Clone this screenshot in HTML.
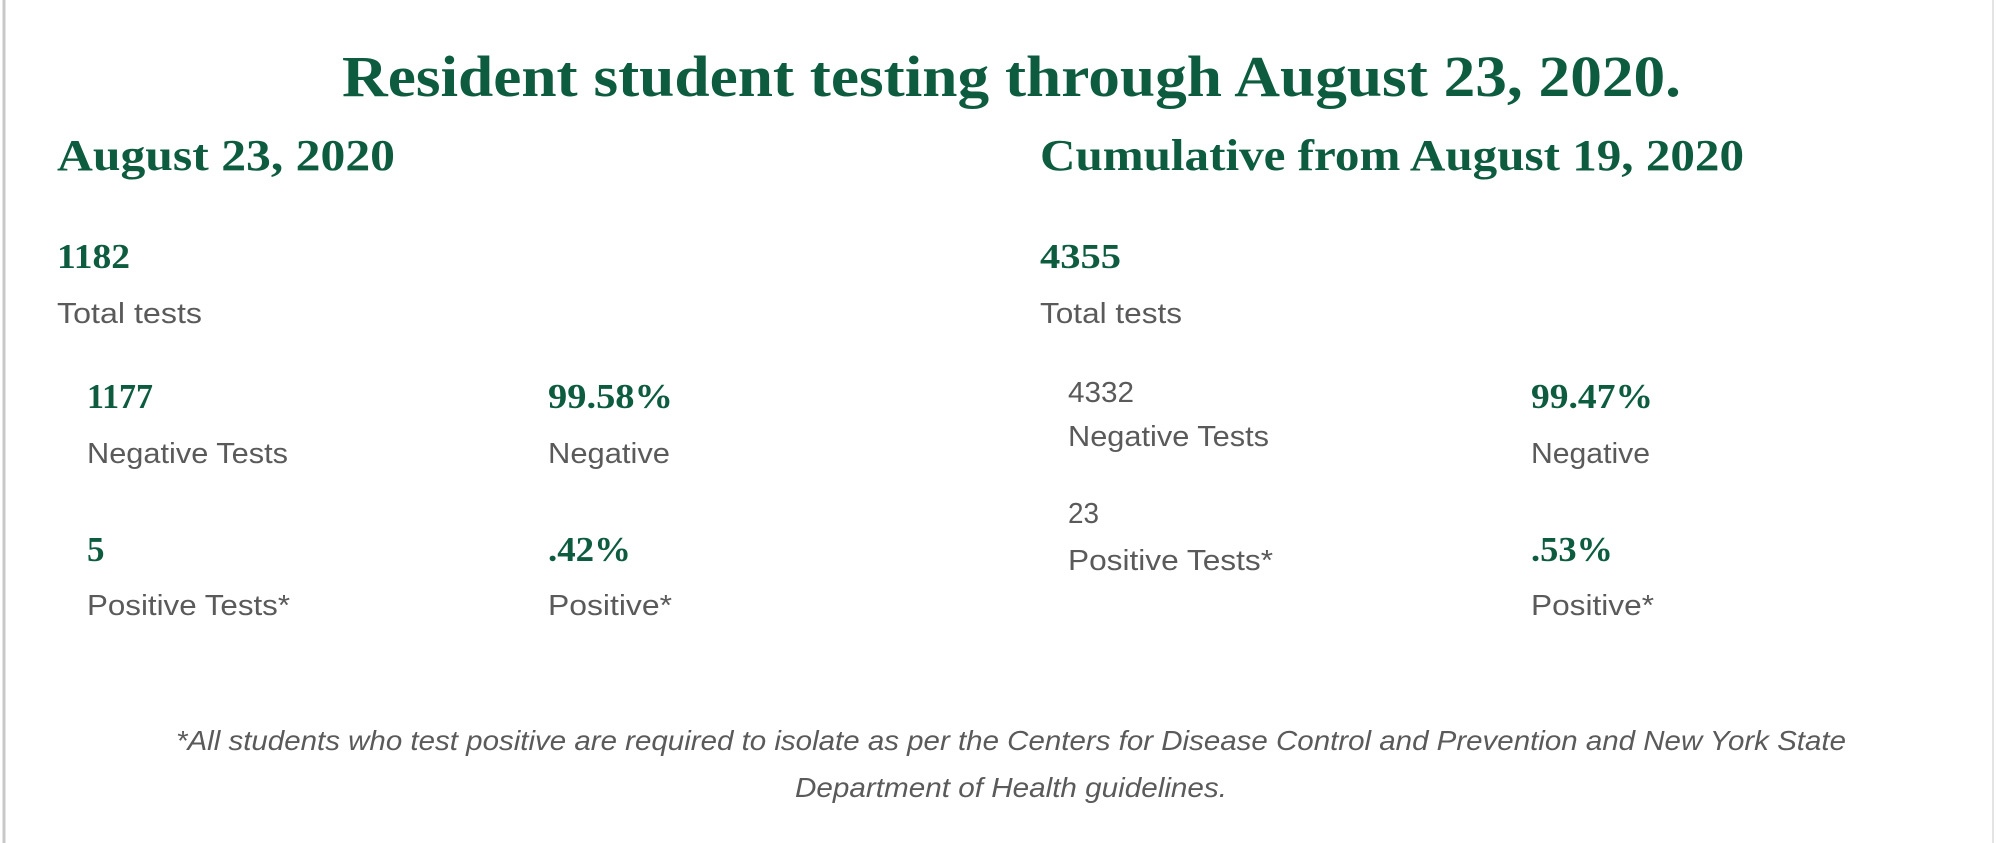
<!DOCTYPE html>
<html><head><meta charset="utf-8"><style>
html,body{margin:0;padding:0;background:#fff;}
svg{display:block}
.s{font-family:"Liberation Serif",serif;font-weight:bold;fill:#0d5c3f}
.g{font-family:"Liberation Sans",sans-serif;fill:#5a5a5a}
</style></head><body>
<svg width="2000" height="843" viewBox="0 0 2000 843" xmlns="http://www.w3.org/2000/svg">
<rect width="2000" height="843" fill="#fff"/>
<line x1="4" y1="0" x2="4" y2="843" stroke="#c8c8c8" stroke-width="3"/>
<line x1="1993" y1="0" x2="1993" y2="843" stroke="#e4e4e4" stroke-width="2"/>
<text class="s" x="342" y="96" font-size="58" textLength="1339" lengthAdjust="spacingAndGlyphs">Resident student testing through August 23, 2020.</text>
<text class="s" x="57" y="170" font-size="44" textLength="338" lengthAdjust="spacingAndGlyphs">August 23, 2020</text>
<text class="s" x="1040" y="170" font-size="44" textLength="704" lengthAdjust="spacingAndGlyphs">Cumulative from August 19, 2020</text>

<text class="s" x="57" y="268" font-size="35" textLength="73" lengthAdjust="spacingAndGlyphs">1182</text>
<text class="g" x="57" y="323" font-size="29" textLength="145" lengthAdjust="spacingAndGlyphs">Total tests</text>
<text class="s" x="87" y="408" font-size="35" textLength="66" lengthAdjust="spacingAndGlyphs">1177</text>
<text class="s" x="548" y="408" font-size="35" textLength="125" lengthAdjust="spacingAndGlyphs">99.58%</text>
<text class="g" x="87" y="463" font-size="29" textLength="201" lengthAdjust="spacingAndGlyphs">Negative Tests</text>
<text class="g" x="548" y="463" font-size="29" textLength="122" lengthAdjust="spacingAndGlyphs">Negative</text>
<text class="s" x="87" y="561" font-size="35">5</text>
<text class="s" x="548" y="561" font-size="35" textLength="83" lengthAdjust="spacingAndGlyphs">.42%</text>
<text class="g" x="87" y="615" font-size="29" textLength="203" lengthAdjust="spacingAndGlyphs">Positive Tests*</text>
<text class="g" x="548" y="615" font-size="29" textLength="124" lengthAdjust="spacingAndGlyphs">Positive*</text>

<text class="s" x="1040" y="268" font-size="35" textLength="81" lengthAdjust="spacingAndGlyphs">4355</text>
<text class="g" x="1040" y="323" font-size="29" textLength="142" lengthAdjust="spacingAndGlyphs">Total tests</text>
<text class="g" x="1068" y="402" font-size="29" textLength="66" lengthAdjust="spacingAndGlyphs">4332</text>
<text class="g" x="1068" y="446" font-size="29" textLength="201" lengthAdjust="spacingAndGlyphs">Negative Tests</text>
<text class="s" x="1531" y="408" font-size="35" textLength="122" lengthAdjust="spacingAndGlyphs">99.47%</text>
<text class="g" x="1531" y="463" font-size="29" textLength="119" lengthAdjust="spacingAndGlyphs">Negative</text>
<text class="g" x="1068" y="523" font-size="29" textLength="31" lengthAdjust="spacingAndGlyphs">23</text>
<text class="g" x="1068" y="570" font-size="29" textLength="205" lengthAdjust="spacingAndGlyphs">Positive Tests*</text>
<text class="s" x="1531" y="561" font-size="35" textLength="82" lengthAdjust="spacingAndGlyphs">.53%</text>
<text class="g" x="1531" y="615" font-size="29" textLength="123" lengthAdjust="spacingAndGlyphs">Positive*</text>

<text class="g" x="176" y="750" font-size="28" font-style="italic" fill="#666" textLength="1670" lengthAdjust="spacingAndGlyphs">*All students who test positive are required to isolate as per the Centers for Disease Control and Prevention and New York State</text>
<text class="g" x="795" y="797" font-size="28" font-style="italic" textLength="432" lengthAdjust="spacingAndGlyphs">Department of Health guidelines.</text>
</svg>
</body></html>
